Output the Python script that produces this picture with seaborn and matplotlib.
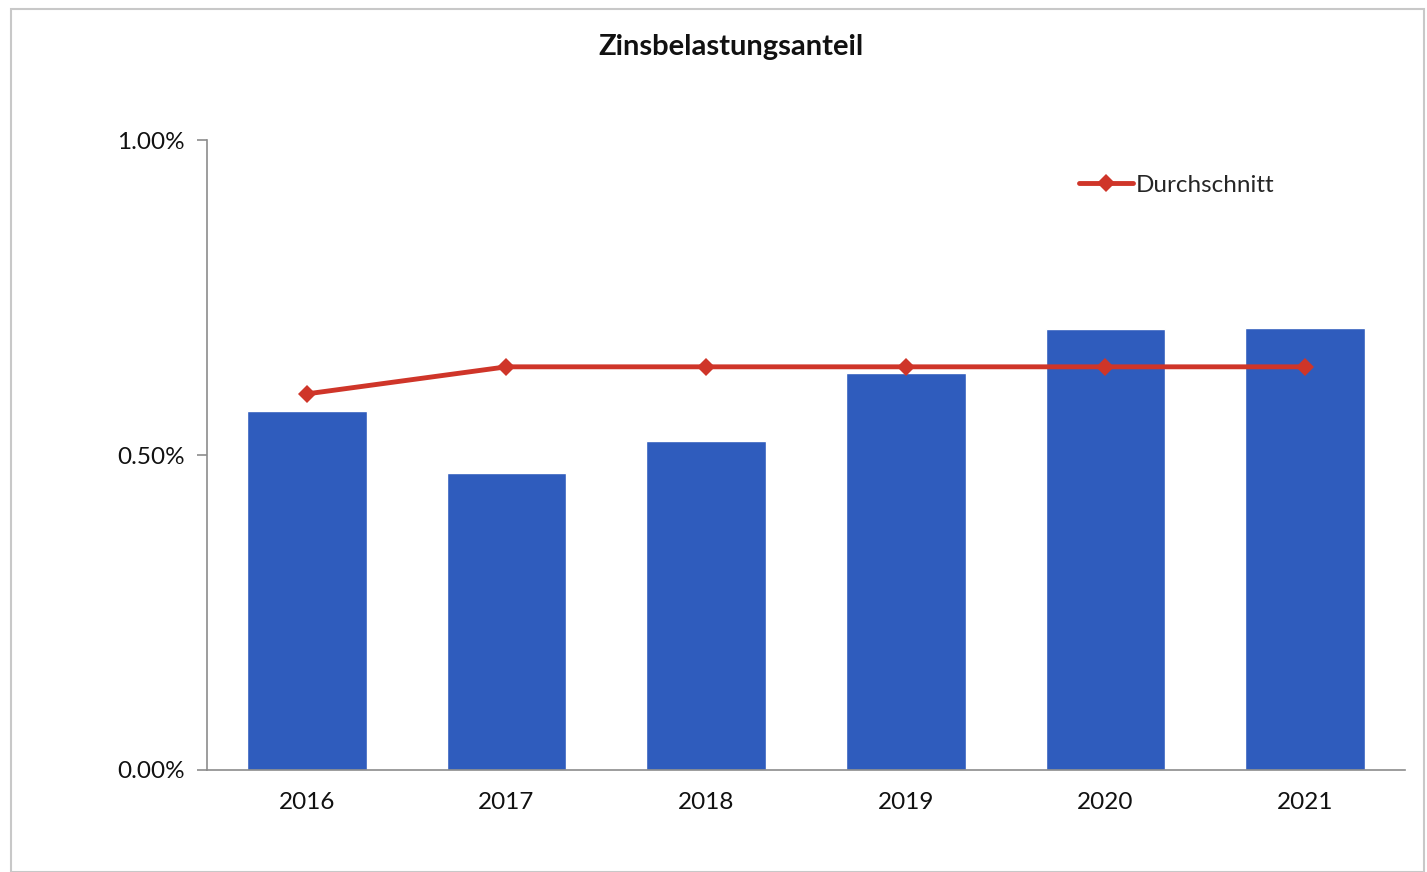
import matplotlib
matplotlib.use("Agg")
import matplotlib.pyplot as plt
import seaborn as sns
import numpy as np
import pandas as pd
from matplotlib.ticker import FuncFormatter, FixedLocator
from matplotlib.patches import Rectangle

years = ["2016", "2017", "2018", "2019", "2020", "2021"]
anteil = [0.570, 0.471, 0.522, 0.630, 0.700, 0.702]
durchschnitt = [0.597, 0.640, 0.640, 0.640, 0.640, 0.640]
yticks = [0.0, 0.5, 1.0]

sns.set_theme(style="white")
plt.rcParams['font.family'] = ['Lato', 'DejaVu Sans']

fig = plt.figure(figsize=(14.27, 8.72), dpi=100)
ax = fig.add_axes([0.145, 0.117, 0.8396, 0.7224])

df = pd.DataFrame({"Jahr": years, "Anteil": anteil})
sns.barplot(data=df, x="Jahr", y="Anteil", color="#2f5cbd", saturation=1,
            width=0.6, ax=ax)
sns.lineplot(x=np.arange(len(years)), y=durchschnitt, color="#cf3529",
             linewidth=3.5, marker="D", markersize=9, markeredgewidth=0,
             label="Durchschnitt", ax=ax)

ax.set_xlim(-0.5, 5.5)
ax.set_ylim(0, 1.0)
ax.yaxis.set_major_locator(FixedLocator(yticks))
ax.yaxis.set_major_formatter(FuncFormatter(lambda v, p: f"{v:.2f}%"))
ax.set_xlabel("")
ax.set_ylabel("")

for s in ["top", "right"]:
    ax.spines[s].set_visible(False)
for s in ["left", "bottom"]:
    ax.spines[s].set_color("#8c8c8c")
    ax.spines[s].set_linewidth(1.2)

ax.set_xticks(np.arange(len(years)))
ax.set_xticklabels(years)
ax.set_xticks(np.arange(-0.5, 6.0, 1.0), minor=True)
ax.tick_params(axis="x", which="major", length=0, labelsize=17.5, pad=16, colors="#111111")
ax.tick_params(axis="x", which="minor", length=7, width=1.2, color="#8c8c8c", direction="out")
ax.tick_params(axis="y", which="major", length=7, width=1.2, color="#8c8c8c",
               labelsize=17.5, pad=9, left=True)
for t in ax.get_yticklabels():
    t.set_color("#111111")

leg = ax.legend(loc="upper left", bbox_to_anchor=(0.71, 0.98), frameon=False,
                fontsize=17.5, handlelength=2.2, handletextpad=0.1)

fig.text(0.512, 0.946, "Zinsbelastungsanteil", ha="center", va="center",
         fontsize=21, fontweight="bold", color="#111111")

fig.patches.append(Rectangle((0.008, 0.0), 0.99, 0.99, transform=fig.transFigure,
                             fill=False, edgecolor="#c8c8c8", linewidth=1.5))

fig.savefig("out.png", dpi=100)
